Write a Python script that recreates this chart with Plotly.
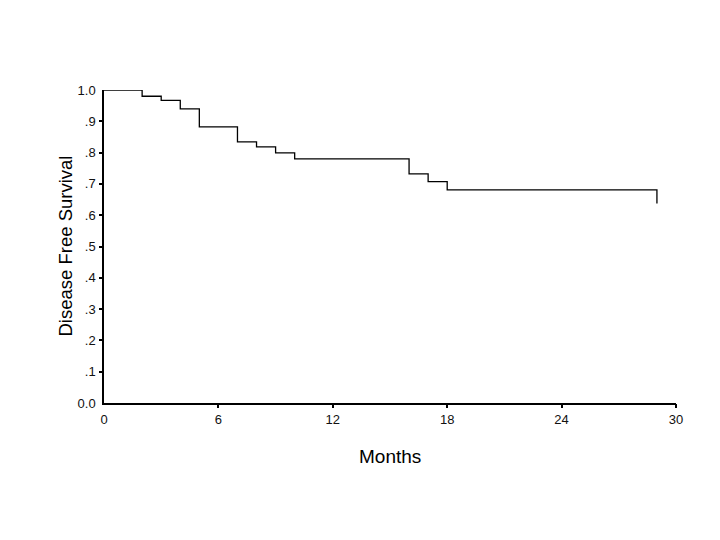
import plotly.graph_objects as go

# Kaplan-Meier step data (months, survival)
months = [0, 2, 3, 4, 5, 7, 8, 9, 10, 16, 17, 18, 29]
survival = [1.0, 0.980, 0.967, 0.940, 0.882, 0.834, 0.818, 0.799, 0.780, 0.732, 0.707, 0.681, 0.637]

x_tick_vals = [0, 6, 12, 18, 24, 30]
x_tick_text = ["0", "6", "12", "18", "24", "30"]
y_tick_vals = [0.0, 0.1, 0.2, 0.3, 0.4, 0.5, 0.6, 0.7, 0.8, 0.9, 1.0]
y_tick_text = ["0.0", ".1", ".2", ".3", ".4", ".5", ".6", ".7", ".8", ".9", "1.0"]
y_mark_vals = [0.1, 0.2, 0.3, 0.4, 0.5, 0.6, 0.7, 0.8, 0.9]
x_mark_vals = [6, 12, 18, 24, 30]

# build step path
xs, ys = [], []
for i, (t, s) in enumerate(zip(months, survival)):
    if i > 0:
        xs.append(t)
        ys.append(survival[i - 1])
    xs.append(t)
    ys.append(s)

fig = go.Figure()
fig.add_trace(go.Scatter(x=xs, y=ys, mode="lines",
                         line=dict(color="black", width=1.3, shape="linear"),
                         hoverinfo="skip", showlegend=False, cliponaxis=False))
# invisible trace to activate overlay axes
fig.add_trace(go.Scatter(x=[0], y=[0], xaxis="x2", yaxis="y2", mode="markers",
                         marker=dict(opacity=0), showlegend=False, hoverinfo="skip"))

font = dict(family="Liberation Sans, Arial, sans-serif", color="black")

fig.update_layout(
    width=720, height=540,
    margin=dict(l=96, r=52, t=82, b=145),
    paper_bgcolor="white", plot_bgcolor="white",
    font=font,
    xaxis=dict(range=[0, 30], tickvals=x_tick_vals, ticktext=x_tick_text,
               ticks="outside", ticklen=4, tickwidth=2, tickcolor="rgba(0,0,0,0)",
               showline=True, linecolor="black", linewidth=1.5,
               showgrid=False, zeroline=False,
               tickfont=dict(size=13, family=font["family"], color="#111")),
    yaxis=dict(range=[0, 1.0], tickvals=y_tick_vals, ticktext=y_tick_text,
               ticks="outside", ticklen=4, tickwidth=2, tickcolor="rgba(0,0,0,0)",
               showline=True, linecolor="black", linewidth=1.5,
               showgrid=False, zeroline=False,
               tickfont=dict(size=13, family=font["family"], color="#111")),
    xaxis2=dict(range=[0, 30], overlaying="x", anchor="y2", side="bottom",
                tickvals=x_mark_vals, showticklabels=False,
                ticks="outside", ticklen=4, tickwidth=2, tickcolor="black",
                showline=False, showgrid=False, zeroline=False),
    yaxis2=dict(range=[0, 1.0], overlaying="y", anchor="x2", side="left",
                tickvals=y_mark_vals, showticklabels=False,
                ticks="outside", ticklen=4, tickwidth=2, tickcolor="black",
                showline=False, showgrid=False, zeroline=False),
    annotations=[
        dict(text="Months", xref="paper", yref="paper", x=0.5, y=0,
             xanchor="center", yanchor="middle", yshift=-53, showarrow=False,
             font=dict(size=19, family=font["family"], color="black")),
        dict(text="Disease Free Survival", xref="paper", yref="paper", x=0, y=0.5,
             xanchor="center", yanchor="middle", xshift=-39, textangle=-90,
             showarrow=False,
             font=dict(size=18.5, family=font["family"], color="black")),
    ],
)

fig.write_html("out.html")
